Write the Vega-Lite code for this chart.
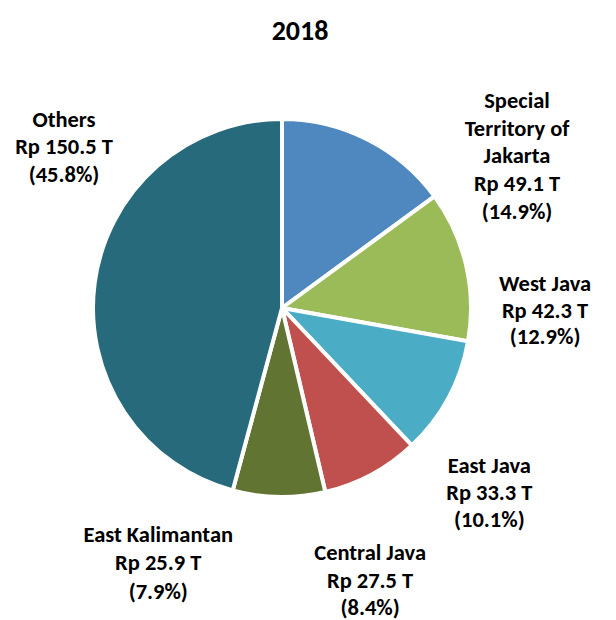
{
  "$schema": "https://vega.github.io/schema/vega-lite/v6.json",
  "width": 564,
  "height": 496,
  "autosize": {"type": "none"},
  "padding": {"left": 0, "top": 60, "right": 52, "bottom": 64},
  "background": "white",
  "title": {"text": "2018", "fontSize": 28, "font": "Carlito, Lato", "fontWeight": "bold", "color": "#000000", "anchor": "middle", "frame": "group", "baseline": "bottom", "dx": 18, "offset": -140},
  "view": {"stroke": null},
  "data": {"values": [
    {"region": "Special Territory of Jakarta", "ord": 1, "value": 49.1, "label": "Special\nTerritory of\nJakarta\nRp 49.1 T\n(14.9%)"},
    {"region": "West Java", "ord": 2, "value": 42.3, "label": "West Java\nRp 42.3 T\n(12.9%)"},
    {"region": "East Java", "ord": 3, "value": 33.3, "label": "East Java\nRp 33.3 T\n(10.1%)"},
    {"region": "Central Java", "ord": 4, "value": 27.5, "label": "Central Java\nRp 27.5 T\n(8.4%)"},
    {"region": "East Kalimantan", "ord": 5, "value": 25.9, "label": "East Kalimantan\nRp 25.9 T\n(7.9%)"},
    {"region": "Others", "ord": 6, "value": 150.5, "label": "Others\nRp 150.5 T\n(45.8%)"}
  ]},
  "encoding": {
    "theta": {"field": "value", "type": "quantitative", "stack": true},
    "order": {"field": "ord", "type": "quantitative"}
  },
  "layer": [
    {
      "mark": {"type": "arc", "radius": 189, "stroke": "white", "strokeWidth": 4},
      "encoding": {
        "color": {"field": "region", "type": "nominal", "legend": null,
          "scale": {"domain": ["Special Territory of Jakarta", "West Java", "East Java", "Central Java", "East Kalimantan", "Others"],
                    "range": ["#4F88BE", "#9BBB59", "#4BACC6", "#C0504D", "#617431", "#276A7C"]}}
      }
    },
    {
      "mark": {"type": "text", "radius": 230, "dx": 131, "dy": -2, "font": "Carlito, Lato", "fontSize": 22.5, "fontWeight": "bold", "lineBreak": "\n", "lineHeight": 27.7, "align": "center", "baseline": "middle", "fill": "#000000"},
      "encoding": {"detail": {"field": "region"}, "text": {"condition": {"test": "datum.ord === 1", "field": "label"}, "value": ""}}
    },
    {
      "mark": {"type": "text", "radius": 230, "dx": 39, "dy": 28, "font": "Carlito, Lato", "fontSize": 22.5, "fontWeight": "bold", "lineBreak": "\n", "lineHeight": 26.5, "align": "center", "baseline": "middle", "fill": "#000000"},
      "encoding": {"detail": {"field": "region"}, "text": {"condition": {"test": "datum.ord === 2", "field": "label"}, "value": ""}}
    },
    {
      "mark": {"type": "text", "radius": 230, "dx": 5, "dy": 49, "font": "Carlito, Lato", "fontSize": 22.5, "fontWeight": "bold", "lineBreak": "\n", "lineHeight": 27, "align": "center", "baseline": "middle", "fill": "#000000"},
      "encoding": {"detail": {"field": "region"}, "text": {"condition": {"test": "datum.ord === 3", "field": "label"}, "value": ""}}
    },
    {
      "mark": {"type": "text", "radius": 230, "dx": -21, "dy": 43, "font": "Carlito, Lato", "fontSize": 22.5, "fontWeight": "bold", "lineBreak": "\n", "lineHeight": 27.5, "align": "center", "baseline": "middle", "fill": "#000000"},
      "encoding": {"detail": {"field": "region"}, "text": {"condition": {"test": "datum.ord === 4", "field": "label"}, "value": ""}}
    },
    {
      "mark": {"type": "text", "radius": 230, "dx": -120, "dy": -3, "font": "Carlito, Lato", "fontSize": 22.5, "fontWeight": "bold", "lineBreak": "\n", "lineHeight": 28.5, "align": "center", "baseline": "middle", "fill": "#000000"},
      "encoding": {"detail": {"field": "region"}, "text": {"condition": {"test": "datum.ord === 5", "field": "label"}, "value": ""}}
    },
    {
      "mark": {"type": "text", "radius": 230, "dx": 10, "dy": -158, "font": "Carlito, Lato", "fontSize": 22.5, "fontWeight": "bold", "lineBreak": "\n", "lineHeight": 27.5, "align": "center", "baseline": "middle", "fill": "#000000"},
      "encoding": {"detail": {"field": "region"}, "text": {"condition": {"test": "datum.ord === 6", "field": "label"}, "value": ""}}
    }
  ]
}
